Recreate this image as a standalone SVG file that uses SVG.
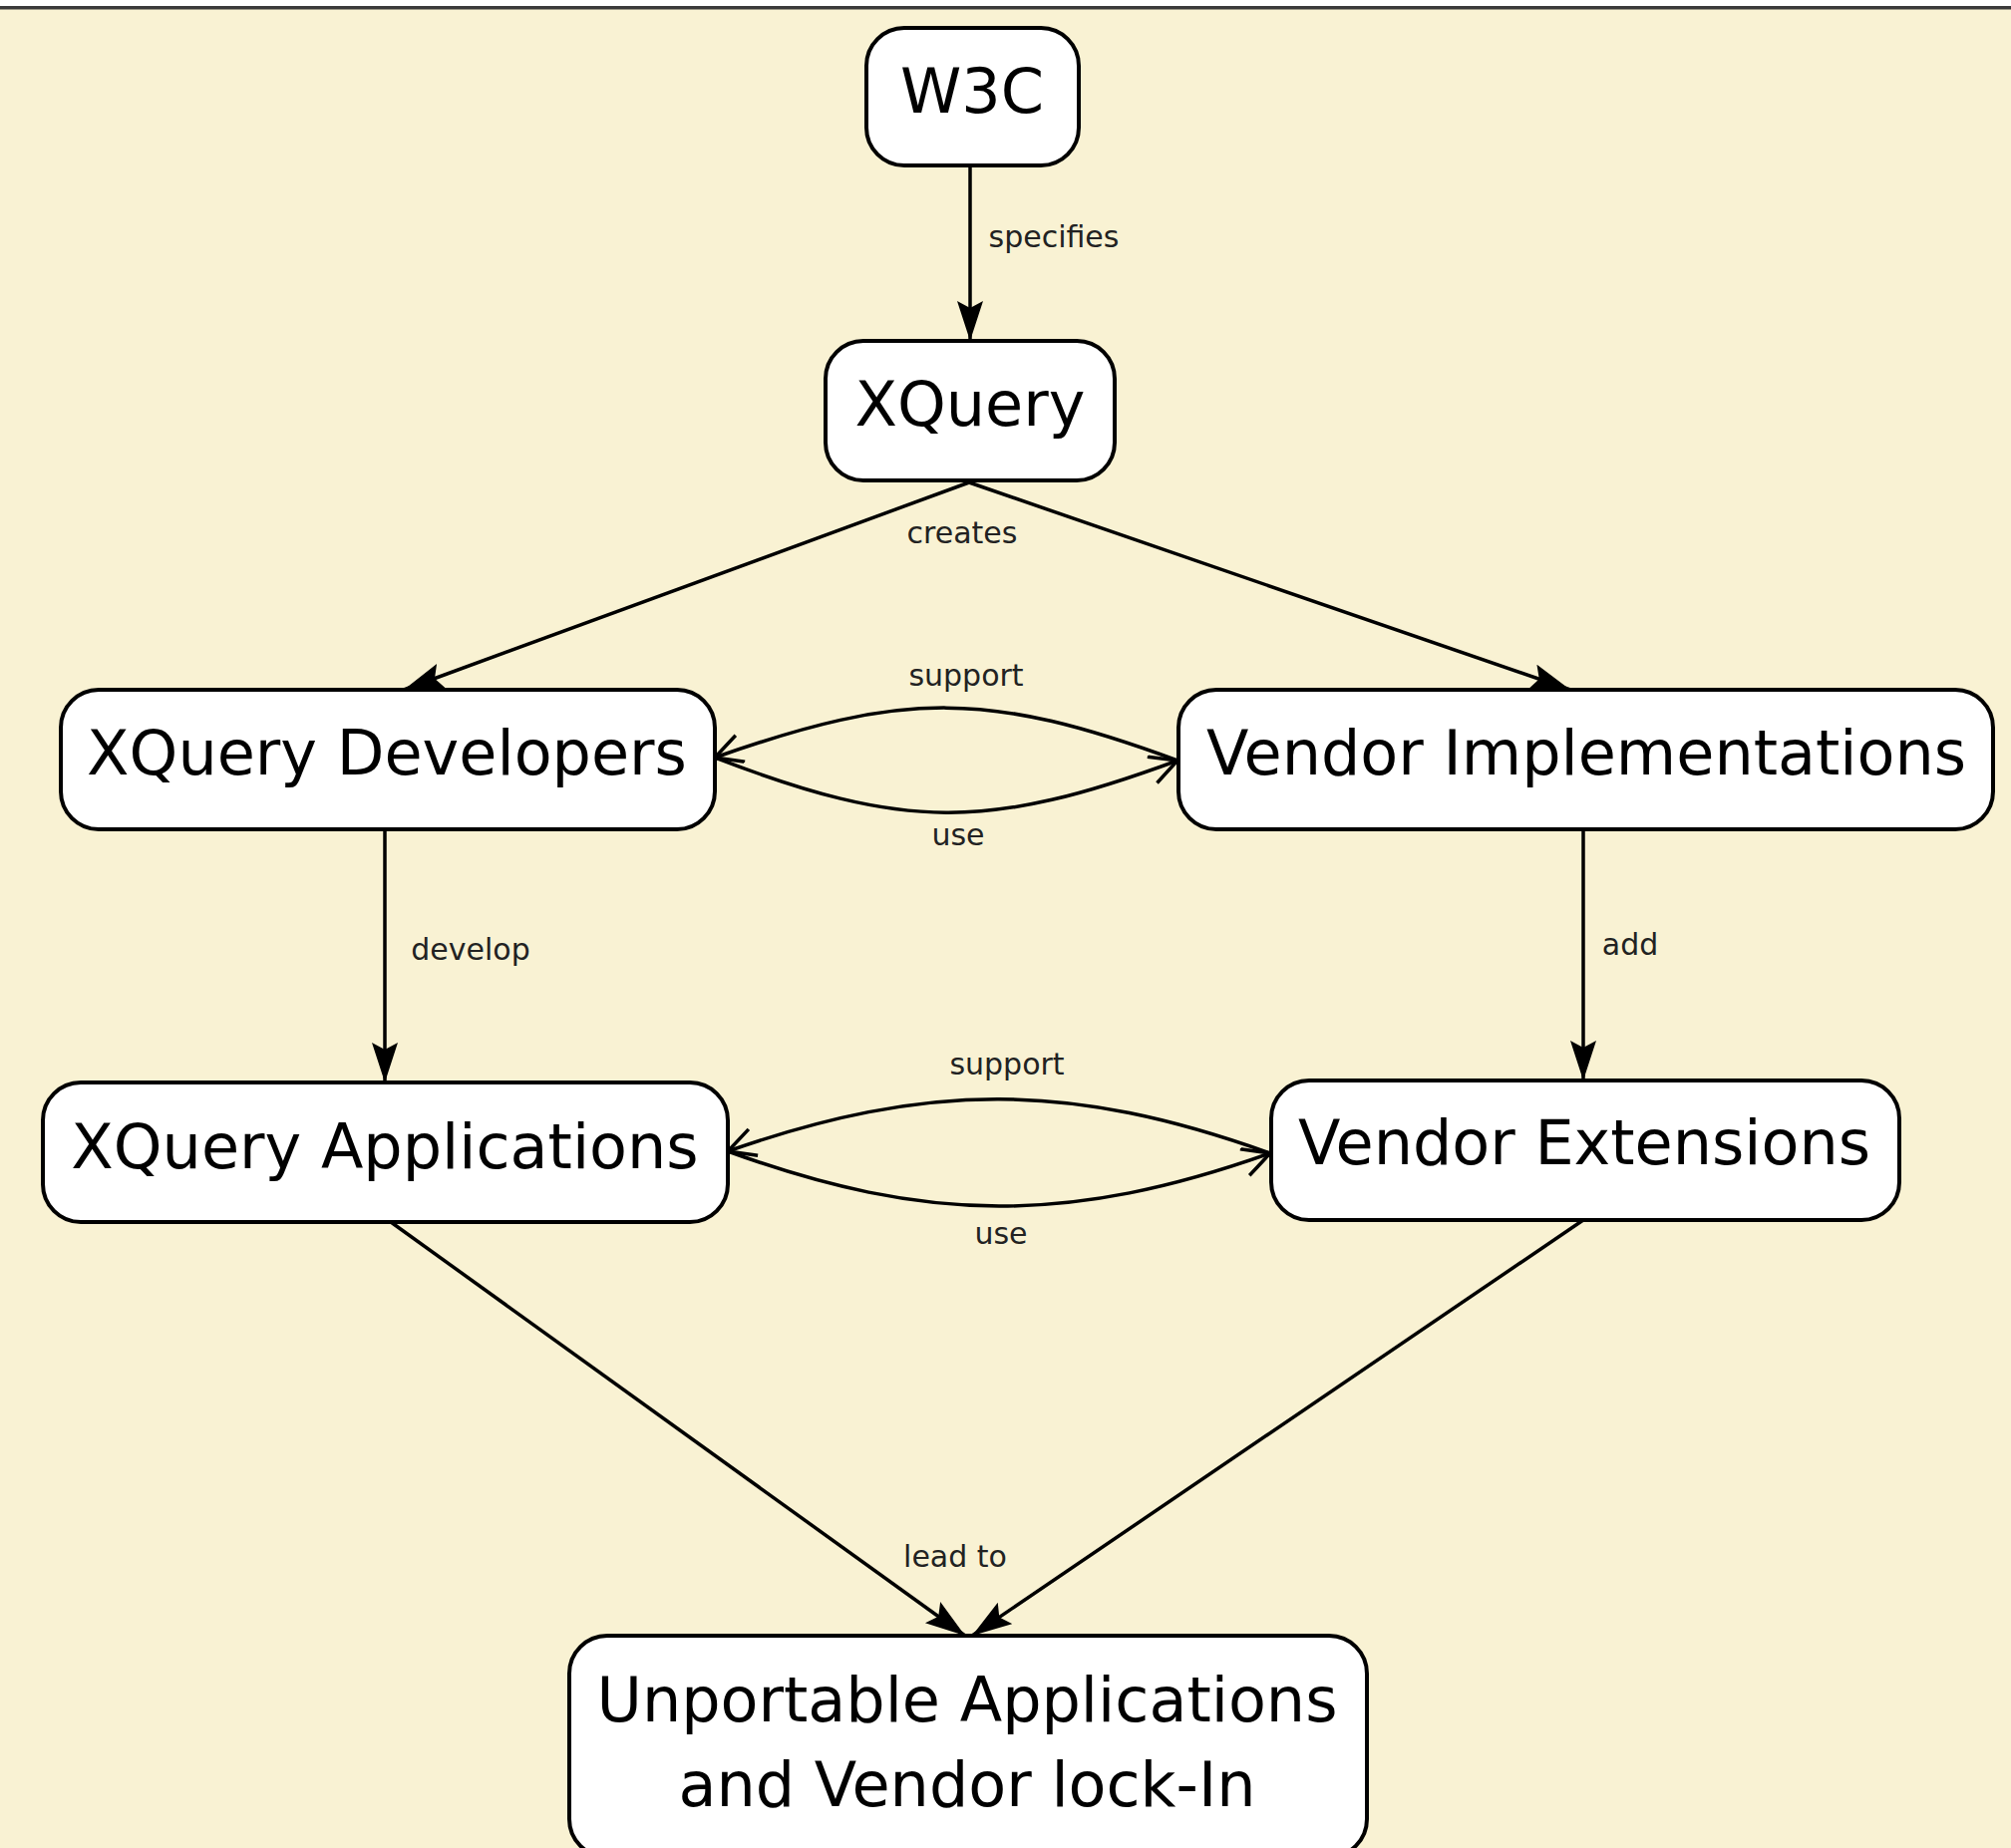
<svg xmlns="http://www.w3.org/2000/svg" width="2017" height="1854" viewBox="0 0 2017 1854">
<style>
.box{fill:#ffffff;stroke:#000;stroke-width:4}
.nt{font-family:"DejaVu Sans",sans-serif;font-size:62px;fill:#000;text-anchor:middle}
.lb{font-family:"DejaVu Sans",sans-serif;font-size:30px;fill:#222;text-anchor:middle}
.ln{fill:none;stroke:#000;stroke-width:3.5}
</style>
<defs>
<marker id="fa" markerUnits="userSpaceOnUse" markerWidth="42" markerHeight="28" refX="40" refY="13" orient="auto">
<path d="M0,0 L40,13 L0,26 L7,13 z" fill="#000"/>
</marker>
<marker id="oa" markerUnits="userSpaceOnUse" markerWidth="34" markerHeight="32" refX="30" refY="15" orient="auto">
<path d="M3,1 L30,15 L3,29" fill="none" stroke="#000" stroke-width="3.5"/>
</marker>
</defs>
<rect x="0" y="0" width="2017" height="1854" fill="#f9f2d3"/>
<rect x="0" y="0" width="2017" height="6" fill="#ffffff"/>
<rect x="0" y="6" width="2017" height="3.5" fill="#3a3a3a"/>

<g id="connectors">
<path class="ln" d="M973,166 L973,342" marker-end="url(#fa)"/>
<path class="ln" d="M972,484 L405,692" marker-end="url(#fa)"/>
<path class="ln" d="M972,484 L1575,692" marker-end="url(#fa)"/>
<path class="ln" d="M1181,763 C991,693 907,693 717,760" marker-end="url(#oa)"/>
<path class="ln" d="M717,760 C907,833 991,833 1181,763" marker-end="url(#oa)"/>
<path class="ln" d="M386,833 L386,1086" marker-end="url(#fa)"/>
<path class="ln" d="M1588,832 L1588,1084" marker-end="url(#fa)"/>
<path class="ln" d="M1274,1157 C1074,1085 930,1085 730,1155" marker-end="url(#oa)"/>
<path class="ln" d="M730,1155 C930,1228 1074,1228 1274,1157" marker-end="url(#oa)"/>
<path class="ln" d="M392,1226 L968,1641" marker-end="url(#fa)"/>
<path class="ln" d="M1588,1224 L975,1641" marker-end="url(#fa)"/>
<text class="lb" x="1057" y="248">specifies</text>
<text class="lb" x="965" y="545">creates</text>
<text class="lb" x="969" y="688">support</text>
<text class="lb" x="961" y="848">use</text>
<text class="lb" x="472" y="963">develop</text>
<text class="lb" x="1635" y="958">add</text>
<text class="lb" x="1010" y="1078">support</text>
<text class="lb" x="1004" y="1248">use</text>
<text class="lb" x="958" y="1572">lead to</text>
</g>

<g id="w3c">
<rect class="box" x="869" y="28" width="213" height="138" rx="38" ry="38"/>
<text class="nt" x="975" y="113">W3C</text>
</g>
<g id="xquery">
<rect class="box" x="828" y="342" width="290" height="140" rx="38" ry="38"/>
<text class="nt" x="973" y="427">XQuery</text>
</g>
<g id="xquery-developers">
<rect class="box" x="61" y="692" width="656" height="140" rx="38" ry="38"/>
<text class="nt" x="388" y="777">XQuery Developers</text>
</g>
<g id="vendor-implementations">
<rect class="box" x="1182" y="692" width="817" height="140" rx="38" ry="38"/>
<text class="nt" x="1591" y="777">Vendor Implementations</text>
</g>
<g id="xquery-applications">
<rect class="box" x="43" y="1086" width="687" height="140" rx="38" ry="38"/>
<text class="nt" x="386" y="1172">XQuery Applications</text>
</g>
<g id="vendor-extensions">
<rect class="box" x="1275" y="1084" width="630" height="140" rx="38" ry="38"/>
<text class="nt" x="1589" y="1168">Vendor Extensions</text>
</g>
<g id="unportable">
<rect class="box" x="571" y="1641" width="800" height="222" rx="38" ry="38"/>
<text class="nt" x="970" y="1727">Unportable Applications</text>
<text class="nt" x="970" y="1812">and Vendor lock-In</text>
</g>
</svg>
